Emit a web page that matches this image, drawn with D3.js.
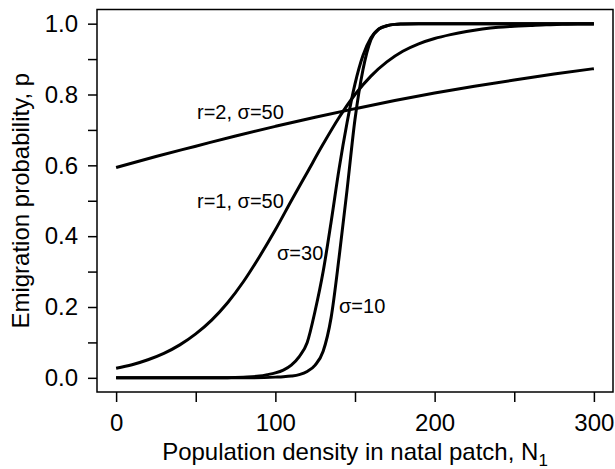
<!DOCTYPE html>
<meta charset="utf-8">
<style>
body { margin: 0; background: #fff; }
text { font-family: 'Liberation Sans', Arial, Helvetica, sans-serif; fill: #000; }
.curve { fill: none; stroke: #000; stroke-width: 3; stroke-linejoin: round; }
.axis line { stroke: #000; stroke-width: 1.5; }
.axis path { display: none; }
.curveLabel { font-size: 20px; }
.axisLabel { font-size: 24px; }
</style>
<svg width="615" height="469"></svg>
<script src="https://d3js.org/d3.v7.min.js"></script>
<script>

// r=2, sigma=50
var densA = [0, 25, 50, 75, 100, 125, 150, 175, 200, 225, 250, 275, 300];
var probA = [0.594, 0.625, 0.654, 0.683, 0.710, 0.736, 0.760, 0.783, 0.804, 0.823, 0.841, 0.858, 0.873];

// r=1, sigma=50
var densB = [0, 10, 20, 30, 40, 50, 60, 70, 80, 90, 100, 110, 120, 130, 140, 150, 160, 170, 180, 190, 200,
             210, 220, 230, 240, 250, 260, 270, 280, 290, 300];
var probB = [0.027, 0.037, 0.051, 0.069, 0.093, 0.124, 0.163, 0.212, 0.272, 0.342, 0.418, 0.50, 0.58, 0.66, 0.735,
             0.80, 0.852, 0.892, 0.922, 0.943, 0.958, 0.969, 0.978, 0.985, 0.99, 0.993, 0.995, 0.997, 0.998, 0.999, 0.999];

// sigma=30
var densC = [0, 50, 70, 80, 90, 95, 100, 105, 110, 115, 120, 125, 130, 135, 140, 145, 150, 155, 160, 165, 170,
             175, 180, 190, 200, 250, 300];
var probC = [0, 0, 0.0005, 0.002, 0.005, 0.009, 0.014, 0.022, 0.036, 0.06, 0.1, 0.19, 0.30, 0.44, 0.59, 0.72,
             0.83, 0.91, 0.96, 0.985, 0.994, 0.998, 0.999, 1, 1, 1, 1];

// sigma=10
var densD = [0, 80, 100, 105, 110, 115, 120, 125, 130, 135, 140, 145, 150, 155, 160, 165, 170, 175, 180, 190,
             200, 250, 300];
var probD = [0, 0, 0.002, 0.003, 0.005, 0.009, 0.018, 0.036, 0.075, 0.17, 0.34, 0.53, 0.73, 0.87, 0.955, 0.985,
             0.994, 0.998, 0.999, 1, 1, 1, 1];

var xTicks = [0, 50, 100, 150, 200, 250, 300];
var yTicks = [0, 0.1, 0.2, 0.3, 0.4, 0.5, 0.6, 0.7, 0.8, 0.9, 1.0];

var svg = d3.select("svg"),
    box = {left: 97, top: 9.5, right: 613, bottom: 392};

var x = d3.scaleLinear().domain([-12, 312]).range([box.left, box.right]);
var y = d3.scaleLinear().domain([-0.04, 1.04]).range([box.bottom, box.top]);

var line = d3.line()
    .x(function(d) { return x(d[0]); })
    .y(function(d) { return y(d[1]); })
    .curve(d3.curveMonotoneX);

var series = [
  d3.zip(densA, probA),
  d3.zip(densB, probB),
  d3.zip(densC, probC),
  d3.zip(densD, probD)
];

svg.selectAll(".curve")
  .data(series)
  .enter().append("path")
    .attr("class", "curve")
    .attr("d", line);

// frame
svg.append("rect")
    .attr("x", box.left)
    .attr("y", box.top)
    .attr("width", box.right - box.left)
    .attr("height", box.bottom - box.top)
    .attr("fill", "none")
    .attr("stroke", "#000")
    .attr("stroke-width", 1.5);

var xAxis = svg.append("g")
    .attr("class", "axis")
    .attr("transform", "translate(0," + box.bottom + ")")
    .call(d3.axisBottom(x).tickValues(xTicks).tickSize(10).tickPadding(12)
      .tickFormat(function(d) { return d % 100 === 0 ? d : ""; }));

var yAxis = svg.append("g")
    .attr("class", "axis")
    .attr("transform", "translate(" + box.left + ",0)")
    .call(d3.axisLeft(y).tickValues(yTicks).tickSize(9).tickPadding(10)
      .tickFormat(function(d, i) { return i % 2 === 0 ? d.toFixed(1) : ""; }));

svg.selectAll(".axis").attr("font-size", 24).attr("font-family", null);

// axis titles
var xLabel = svg.append("text")
    .attr("class", "axisLabel")
    .attr("x", (box.left + box.right) / 2)
    .attr("y", 460)
    .attr("text-anchor", "middle")
    .text("Population density in natal patch, N");
xLabel.append("tspan")
    .attr("font-size", 17)
    .attr("dy", 6)
    .text("1");

svg.append("text")
    .attr("class", "axisLabel")
    .attr("transform", "translate(29," + y(0.5) + ") rotate(-90)")
    .attr("text-anchor", "middle")
    .text("Emigration probability, p");

// curve labels
var labels = [
  {t: "r=2, \u03c3=50", x: 197, y: 119},
  {t: "r=1, \u03c3=50", x: 197, y: 208},
  {t: "\u03c3=30", x: 277, y: 260},
  {t: "\u03c3=10", x: 339, y: 313}
];

svg.selectAll(".curveLabel")
  .data(labels)
  .enter().append("text")
    .attr("class", "curveLabel")
    .attr("x", function(d) { return d.x; })
    .attr("y", function(d) { return d.y; })
    .text(function(d) { return d.t; });

</script>
